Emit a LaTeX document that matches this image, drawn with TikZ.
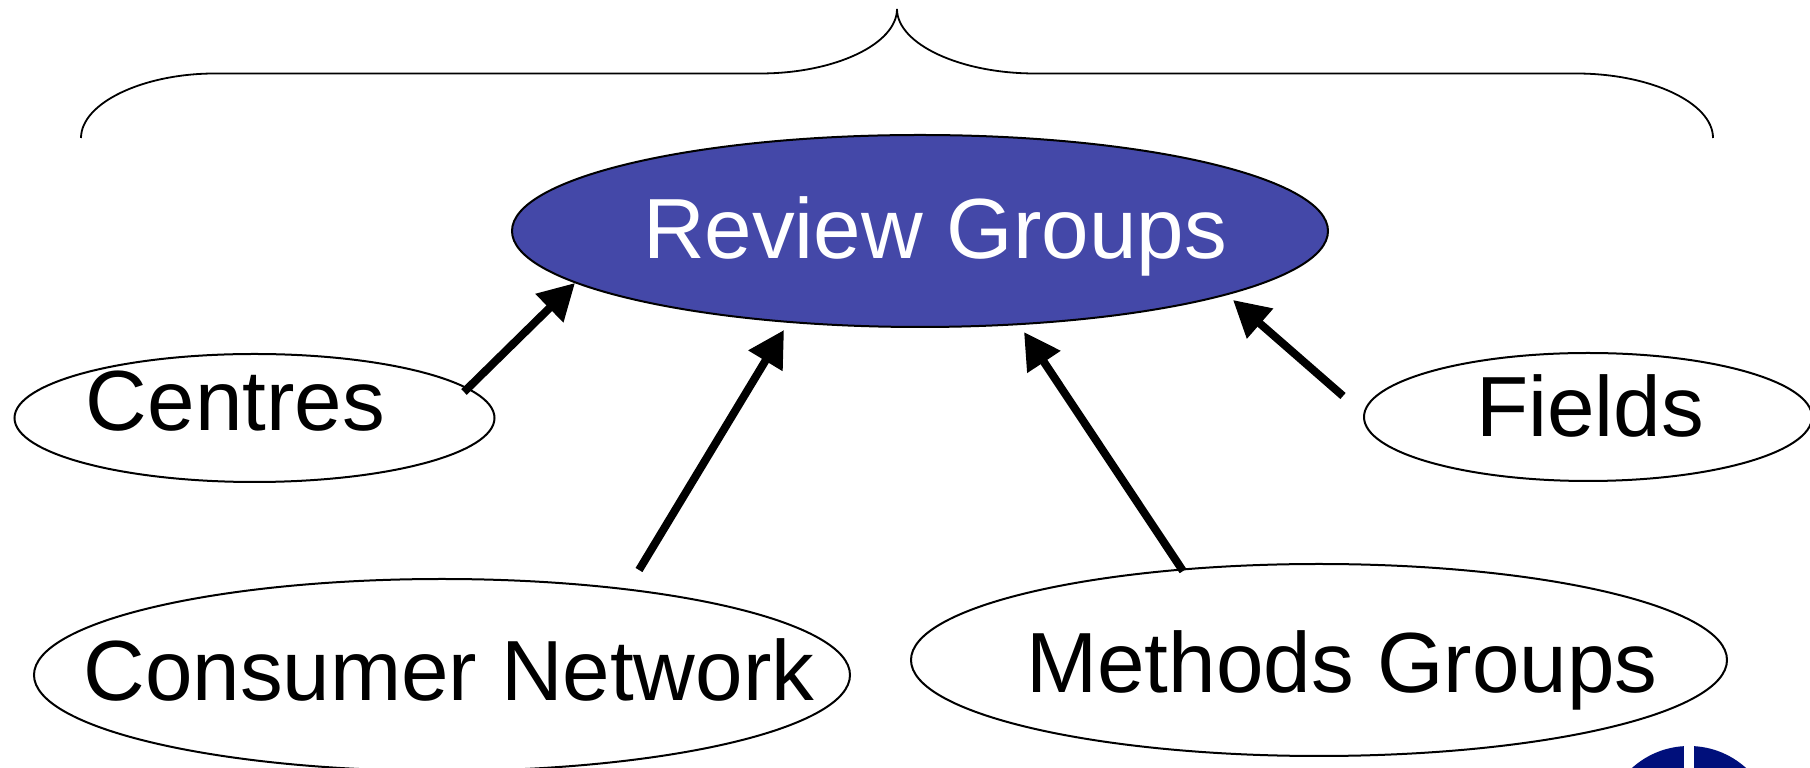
\documentclass[tikz,border=0pt]{standalone}
\usepackage{fontspec}
\setmainfont{Liberation Sans}
\usetikzlibrary{arrows.meta}
\usetikzlibrary{calc}
\usetikzlibrary{shapes.geometric}

\definecolor{reviewfill}{RGB}{68, 72, 168}
\definecolor{logoblue}{RGB}{0, 15, 123}

\tikzset{
  oval/.style = {ellipse, draw = black, line width = .5pt, fill = white,
    inner sep = 0pt, minimum width = 204pt, minimum height = 48pt},
  smalloval/.style = {oval, minimum height = 32pt},
  caption/.style = {anchor = base, inner sep = 0pt,
    font = \fontsize{21.35pt}{26pt}\selectfont},
  feed/.style = {line width = 2pt, -{Triangle[length = 9pt, width = 9.5pt]}},
  bracket/.style = {line width = .45pt}
}

\begin{document}
\begin{tikzpicture}[x = .25pt, y = -.25pt]
  \path[use as bounding box, clip] (0, 0) rectangle (1810, 768);

  \coordinate (BL) at (81, 138);
  \coordinate (BR) at (1713, 138);
  \coordinate (BT) at (897, 9);

  \draw[bracket] (BL) .. controls (81, 103) and (143, 73.5) .. (215, 73.5) -- (760, 73.5)
    .. controls (835, 73.5) and (897, 44) .. (BT)
    .. controls (897, 44) and (960, 73.5) .. (1035, 73.5) -- (1576, 73.5)
    .. controls (1651, 73.5) and (1713, 103) .. (BR);

  \node[oval, fill = reviewfill] (Review) at (920, 231) {};
  \node[smalloval, minimum width = 120pt] (Centres) at (254.5, 418) {};
  \node[smalloval, minimum width = 112pt] (Fields) at (1588, 417) {};
  \node[oval] (Consumer) at (442, 675) {};
  \node[oval] (Methods) at (1319, 660) {};

  \node[caption, text = white] (ReviewText) at (935, 259) {Review Groups};
  \node[caption] (CentresText) at (235.5, 431) {Centres};
  \node[caption] (FieldsText) at (1590, 437) {Fields};
  \node[caption] (ConsumerText) at (449, 701) {Consumer Network};
  \node[caption] (MethodsText) at (1342, 693) {Methods Groups};

  \draw[feed] ($(Centres) + (209.5, -26)$) -- ($(Review) + (-345, 52)$);
  \draw[feed] ($(Consumer) + (197, -105)$) -- ($(Review) + (-136, 99)$);
  \draw[feed] ($(Methods) + (-136, -89)$) -- ($(Review) + (104, 101)$);
  \draw[feed] ($(Fields) + (-245, -21)$) -- ($(Review) + (313, 69)$);

  \fill[logoblue] (1689, 831) circle (21.25pt);
  \fill[white] (1684, 740) rectangle (1694, 768);
\end{tikzpicture}
\end{document}
